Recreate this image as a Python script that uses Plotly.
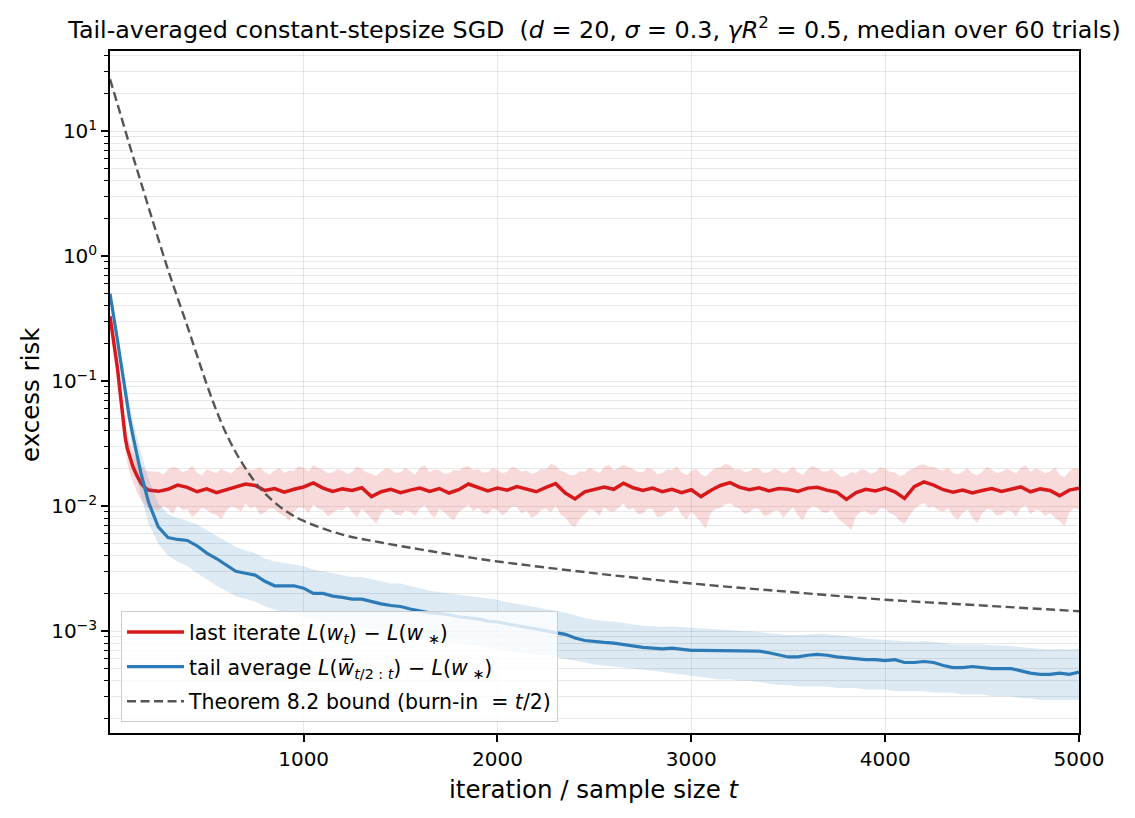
import plotly.graph_objects as go

# ---------------- data ----------------
T_EARLY = [1, 10, 20, 30, 40, 50, 60, 70, 80, 90, 100, 120, 140, 160, 180, 200]
T = T_EARLY + list(range(250, 5001, 50))          # grid of the median curves
T_RED_BAND = T_EARLY + list(range(250, 5001, 25))  # finer grid of the spiky red band

RED_MED = [0.33, 0.27, 0.215, 0.17, 0.125, 0.09, 0.064, 0.046, 0.035, 0.029, 0.0255, 0.0205, 0.0175, 0.0153, 0.0141, 0.0134,
           0.0131, 0.0136, 0.0147, 0.0141, 0.0130, 0.0137, 0.0128, 0.0135, 0.0140, 0.0150,
           0.0146, 0.0133, 0.0138, 0.0129, 0.0136, 0.0142, 0.0153, 0.0139, 0.0131, 0.0137,
           0.0133, 0.0140, 0.0119, 0.0130, 0.0136, 0.0128, 0.0134, 0.0139, 0.0131, 0.0138,
           0.0127, 0.0135, 0.0150, 0.0141, 0.0132, 0.0139, 0.0134, 0.0143, 0.0136, 0.0130,
           0.0141, 0.0151, 0.0127, 0.0114, 0.0130, 0.0137, 0.0142, 0.0136, 0.0152, 0.0140,
           0.0133, 0.0139, 0.0130, 0.0136, 0.0128, 0.0135, 0.0119, 0.0133, 0.0146, 0.0154,
           0.0141, 0.0135, 0.0140, 0.0132, 0.0138, 0.0136, 0.0131, 0.0139, 0.0141, 0.0134,
           0.0129, 0.0113, 0.0128, 0.0136, 0.0132, 0.0139, 0.0130, 0.0115, 0.0143, 0.0156,
           0.0147, 0.0135, 0.0129, 0.0134, 0.0127, 0.0133, 0.0138, 0.0131, 0.0136, 0.0142,
           0.0130, 0.0137, 0.0133, 0.0121, 0.0134, 0.0139]

RED_HI = [0.36, 0.30, 0.24, 0.195, 0.145, 0.106, 0.077, 0.057, 0.044, 0.037, 0.033, 0.027, 0.023, 0.021, 0.0195, 0.019,
          0.0188, 0.0179, 0.0195, 0.0206, 0.0201, 0.0187, 0.0192, 0.0210, 0.0185, 0.0176,
          0.0197, 0.0189, 0.0183, 0.0199, 0.0190, 0.0181, 0.0199, 0.0212, 0.0208, 0.0193,
          0.0196, 0.0205, 0.0187, 0.0178, 0.0193, 0.0202, 0.0184, 0.0192, 0.0191, 0.0209,
          0.0202, 0.0189, 0.0214, 0.0201, 0.0195, 0.0183, 0.0186, 0.0198, 0.0192, 0.0180,
          0.0188, 0.0207, 0.0198, 0.0186, 0.0181, 0.0174, 0.0189, 0.0200, 0.0196, 0.0184,
          0.0185, 0.0203, 0.0190, 0.0179, 0.0203, 0.0211, 0.0187, 0.0196, 0.0194, 0.0182,
          0.0182, 0.0195, 0.0191, 0.0204, 0.0209, 0.0193, 0.0198, 0.0185, 0.0186, 0.0201,
          0.0195, 0.0182, 0.0189, 0.0206, 0.0200, 0.0188, 0.0192, 0.0181, 0.0185, 0.0199,
          0.0197, 0.0217, 0.0211, 0.0192, 0.0186, 0.0175, 0.0178, 0.0190, 0.0188, 0.0203,
          0.0194, 0.0183, 0.0205, 0.0214, 0.0192, 0.0201, 0.0215, 0.0204, 0.0199, 0.0186,
          0.0187, 0.0202, 0.0196, 0.0180, 0.0184, 0.0197, 0.0193, 0.0208, 0.0186, 0.0177,
          0.0191, 0.0199, 0.0180, 0.0172, 0.0189, 0.0201, 0.0204, 0.0218, 0.0212, 0.0195,
          0.0198, 0.0187, 0.0190, 0.0203, 0.0197, 0.0184, 0.0186, 0.0199, 0.0194, 0.0182,
          0.0191, 0.0207, 0.0185, 0.0178, 0.0196, 0.0209, 0.0201, 0.0190, 0.0189, 0.0198,
          0.0183, 0.0171, 0.0175, 0.0186, 0.0184, 0.0197, 0.0193, 0.0181, 0.0187, 0.0205,
          0.0198, 0.0188, 0.0185, 0.0173, 0.0180, 0.0194, 0.0201, 0.0213, 0.0216, 0.0207,
          0.0205, 0.0196, 0.0191, 0.0202, 0.0184, 0.0179, 0.0189, 0.0200, 0.0182, 0.0176,
          0.0188, 0.0206, 0.0195, 0.0184, 0.0186, 0.0199, 0.0192, 0.0181, 0.0203, 0.0211,
          0.0187, 0.0200, 0.0194, 0.0183, 0.0189, 0.0204, 0.0178, 0.0170, 0.0190, 0.0201,
          0.0197]

RED_LO = [0.30, 0.24, 0.19, 0.148, 0.107, 0.077, 0.054, 0.038, 0.028, 0.022, 0.019, 0.0155, 0.0128, 0.0112, 0.0102, 0.0096,
          0.0092, 0.0099, 0.0096, 0.0086, 0.0101, 0.0093, 0.0094, 0.0081, 0.0088, 0.0097,
          0.0093, 0.0087, 0.0085, 0.0078, 0.0091, 0.0099, 0.0097, 0.0090, 0.0104, 0.0096,
          0.0099, 0.0085, 0.0089, 0.0096, 0.0094, 0.0087, 0.0083, 0.0076, 0.0090, 0.0098,
          0.0096, 0.0088, 0.0103, 0.0095, 0.0093, 0.0082, 0.0087, 0.0094, 0.0092, 0.0100,
          0.0089, 0.0081, 0.0095, 0.0087, 0.0079, 0.0072, 0.0087, 0.0095, 0.0093, 0.0085,
          0.0084, 0.0092, 0.0090, 0.0083, 0.0096, 0.0101, 0.0088, 0.0080, 0.0094, 0.0089,
          0.0082, 0.0077, 0.0089, 0.0096, 0.0102, 0.0091, 0.0097, 0.0088, 0.0086, 0.0095,
          0.0093, 0.0084, 0.0090, 0.0099, 0.0098, 0.0087, 0.0092, 0.0080, 0.0084, 0.0093,
          0.0095, 0.0089, 0.0100, 0.0086, 0.0081, 0.0071, 0.0068, 0.0079, 0.0086, 0.0094,
          0.0092, 0.0083, 0.0098, 0.0091, 0.0090, 0.0097, 0.0104, 0.0093, 0.0096, 0.0086,
          0.0087, 0.0095, 0.0094, 0.0081, 0.0083, 0.0090, 0.0091, 0.0099, 0.0085, 0.0078,
          0.0090, 0.0082, 0.0074, 0.0066, 0.0088, 0.0094, 0.0097, 0.0103, 0.0105, 0.0098,
          0.0095, 0.0086, 0.0089, 0.0096, 0.0094, 0.0083, 0.0085, 0.0091, 0.0092, 0.0080,
          0.0090, 0.0098, 0.0084, 0.0077, 0.0093, 0.0100, 0.0097, 0.0089, 0.0088, 0.0094,
          0.0082, 0.0075, 0.0070, 0.0064, 0.0083, 0.0090, 0.0091, 0.0085, 0.0086, 0.0096,
          0.0095, 0.0087, 0.0084, 0.0076, 0.0072, 0.0083, 0.0094, 0.0101, 0.0106, 0.0097,
          0.0099, 0.0092, 0.0090, 0.0096, 0.0083, 0.0078, 0.0088, 0.0094, 0.0080, 0.0073,
          0.0087, 0.0095, 0.0093, 0.0084, 0.0085, 0.0092, 0.0091, 0.0082, 0.0097, 0.0101,
          0.0086, 0.0093, 0.0092, 0.0083, 0.0088, 0.0081, 0.0076, 0.0069, 0.0089, 0.0096,
          0.0094]

BLUE_MED = [0.50, 0.40, 0.32, 0.265, 0.21, 0.165, 0.13, 0.104, 0.082, 0.065, 0.052, 0.036, 0.025, 0.0185, 0.014, 0.0107,
            0.0068, 0.0056, 0.0054, 0.0053, 0.0048, 0.0042, 0.0038, 0.0034, 0.0030, 0.0029,
            0.0028, 0.0025, 0.0023, 0.0023, 0.0023, 0.0022, 0.0020, 0.0020, 0.0019, 0.00186,
            0.0018, 0.0018, 0.00172, 0.00165, 0.0016, 0.00157, 0.0015, 0.00145, 0.0014, 0.00138,
            0.00135, 0.0013, 0.00127, 0.00125, 0.0012, 0.00118, 0.00114, 0.0011, 0.00107, 0.00104,
            0.0010, 0.00097, 0.00094, 0.00088, 0.00084, 0.00082, 0.00081, 0.0008, 0.00078, 0.00075,
            0.00074, 0.00073, 0.00072, 0.00073, 0.00071, 0.0007, 0.0007, 0.0007, 0.00069, 0.0007,
            0.0007, 0.00069, 0.00069, 0.00067, 0.00064, 0.00062, 0.00062, 0.00064, 0.00065, 0.00064,
            0.00062, 0.00061, 0.0006, 0.00059, 0.00059, 0.00058, 0.00059, 0.00056, 0.00056, 0.00057,
            0.00056, 0.00053, 0.00051, 0.00051, 0.00052, 0.00051, 0.0005, 0.0005, 0.0005, 0.00048,
            0.00046, 0.00045, 0.00045, 0.00046, 0.00045, 0.00047]

BLUE_HI = [0.53, 0.43, 0.35, 0.29, 0.235, 0.19, 0.152, 0.124, 0.1, 0.081, 0.067, 0.048, 0.035, 0.027, 0.021, 0.0165,
           0.0105, 0.0086, 0.0080, 0.0076, 0.0071, 0.0064, 0.0058, 0.0052, 0.0047, 0.0044,
           0.0042, 0.0038, 0.0036, 0.0035, 0.0034, 0.0033, 0.0031, 0.0030, 0.0029, 0.0028,
           0.0027, 0.0027, 0.0026, 0.0025, 0.0024, 0.0024, 0.0023, 0.0022, 0.0021, 0.00205,
           0.0020, 0.00195, 0.0019, 0.00185, 0.0018, 0.00178, 0.0017, 0.00165, 0.0016, 0.00155,
           0.0015, 0.00145, 0.0014, 0.00133, 0.00127, 0.00123, 0.0012, 0.00119, 0.00116, 0.00112,
           0.0011, 0.00109, 0.00108, 0.00109, 0.00107, 0.00106, 0.00105, 0.00104, 0.00102, 0.00101,
           0.0010, 0.00099, 0.00098, 0.00096, 0.00094, 0.00093, 0.00093, 0.00094, 0.00095, 0.00094,
           0.00092, 0.0009, 0.00088, 0.00087, 0.00086, 0.00085, 0.00084, 0.00082, 0.00082, 0.00083,
           0.00082, 0.0008, 0.00078, 0.00078, 0.00079, 0.00078, 0.00077, 0.00077, 0.00076, 0.00074,
           0.00073, 0.00072, 0.00071, 0.00072, 0.00071, 0.00072]

BLUE_LO = [0.47, 0.37, 0.29, 0.24, 0.185, 0.142, 0.11, 0.086, 0.066, 0.051, 0.040, 0.026, 0.017, 0.0122, 0.0092, 0.0072,
           0.0050, 0.0040, 0.0036, 0.0033, 0.0029, 0.0026, 0.0023, 0.0021, 0.0019, 0.0018,
           0.00172, 0.00158, 0.00148, 0.00142, 0.00138, 0.00132, 0.00125, 0.0012, 0.00116, 0.00113,
           0.0011, 0.00108, 0.00104, 0.0010, 0.00097, 0.00094, 0.0009, 0.00087, 0.00085, 0.00083,
           0.00082, 0.0008, 0.00078, 0.00076, 0.00074, 0.00072, 0.0007, 0.00068, 0.00066, 0.00065,
           0.00064, 0.00062, 0.0006, 0.00058, 0.00056, 0.00054, 0.00053, 0.00052, 0.00051, 0.0005,
           0.00049, 0.00048, 0.00047, 0.00046, 0.00045, 0.00044, 0.00043, 0.00042, 0.00041, 0.00041,
           0.0004, 0.0004, 0.00039, 0.00038, 0.00037, 0.00037, 0.00036, 0.00036, 0.00036, 0.00036,
           0.00035, 0.00035, 0.00035, 0.00034, 0.00034, 0.00034, 0.00033, 0.00033, 0.00033, 0.00033,
           0.00032, 0.00032, 0.00032, 0.00031, 0.00031, 0.00031, 0.0003, 0.0003, 0.0003, 0.00029,
           0.00029, 0.00028, 0.00028, 0.00028, 0.00028, 0.00028]

T_BOUND = [1, 50, 100, 150, 200, 250, 300, 350, 400, 450, 500, 550, 600, 650, 700, 750, 800,
           900, 1000, 1200, 1400, 1600, 1800, 2000, 2500, 3000, 3500, 4000, 4500, 5000]
BOUND = [26, 14.5, 7.9, 4.4, 2.45, 1.37, 0.78, 0.46, 0.275, 0.16, 0.094, 0.058, 0.038, 0.0268, 0.020, 0.0155, 0.0126,
         0.0093, 0.0076, 0.0059, 0.0051, 0.0045, 0.0040, 0.0036, 0.0029, 0.0024, 0.00206, 0.00178, 0.0016, 0.00144]

Y_TICKS = [1e-3, 1e-2, 1e-1, 1, 10]
Y_TICK_TEXT = ["10<sup>−3</sup>", "10<sup>−2</sup>", "10<sup>−1</sup>", "10<sup>0</sup>", "10<sup>1</sup>"]
X_TICKS = [1000, 2000, 3000, 4000, 5000]

for arr in (RED_MED, BLUE_MED, BLUE_HI, BLUE_LO):
    assert len(arr) == len(T), len(arr)
for arr in (RED_HI, RED_LO):
    assert len(arr) == len(T_RED_BAND), len(arr)

RED = "#d7191c"
BLUE = "#2c7bb6"
FONT = "DejaVu Sans"

fig = go.Figure()

def band(tt, lo, hi, color):
    fig.add_trace(go.Scatter(x=tt + tt[::-1], y=hi + lo[::-1], fill="toself", fillcolor=color,
                             line=dict(width=0), mode="lines", hoverinfo="skip", showlegend=False))

band(T_RED_BAND, RED_LO, RED_HI, "rgba(215,25,28,0.16)")
fig.add_trace(go.Scatter(x=T, y=RED_MED, mode="lines", line=dict(color=RED, width=3.5), legendgroup="a",
                         name="last iterate <i>L</i>(<i>w<sub>t</sub></i>) − <i>L</i>(<i>w</i><sub> ∗</sub>)"))
band(T, BLUE_LO, BLUE_HI, "rgba(44,123,182,0.16)")
fig.add_trace(go.Scatter(x=T, y=BLUE_MED, mode="lines", line=dict(color=BLUE, width=3.2), legendgroup="b",
                         name="tail average <i>L</i>(<i>w\u0305</i><sub><i>t</i>/2 : <i>t</i></sub>) − <i>L</i>(<i>w</i><sub> ∗</sub>)"))
fig.add_trace(go.Scatter(x=T_BOUND, y=BOUND, mode="lines", legendgroup="c",
                         line=dict(color="#555555", width=2.4, dash="9px,4.5px", shape="spline"),
                         name="Theorem 8.2 bound (burn-in \u00a0= <i>t</i>/2)"))

minor_vals = []
for e in range(-4, 2):
    for m in range(2, 10):
        v = m * 10.0 ** e
        if 1.5e-4 < v < 44:
            minor_vals.append(v)

GRID = "rgba(0,0,0,0.09)"

fig.update_layout(
    width=1135, height=818,
    margin=dict(l=110, r=56, t=51, b=85),
    paper_bgcolor="white", plot_bgcolor="white",
    font=dict(family=FONT, size=20, color="black"),
    title=dict(text="Tail-averaged constant-stepsize SGD \u00a0(<i>d</i> = 20, <i>σ</i> = 0.3, <i>γR</i><sup>2</sup> = 0.5, median over 60 trials)",
               x=0.5, xref="paper", xanchor="center", y=1 - 30 / 818, yref="container", yanchor="middle",
               font=dict(family=FONT, size=23.8, color="black")),
    showlegend=True,
    legend=dict(x=0.0114, y=0.016, xanchor="left", yanchor="bottom", bgcolor="rgba(255,255,255,0.8)",
                bordercolor="#cccccc", borderwidth=1, font=dict(family=FONT, size=20.5, color="black"),
                traceorder="grouped", tracegroupgap=5, itemwidth=57),
    xaxis=dict(type="linear", range=[1, 5000], tickvals=X_TICKS, ticks="outside", ticklen=7, tickwidth=1.5,
               tickcolor="black", showline=True, linecolor="black", linewidth=1.5, mirror=True,
               showgrid=True, gridcolor=GRID, gridwidth=1, zeroline=False,
               tickfont=dict(family=FONT, size=20, color="black")),
    yaxis=dict(type="log", range=[-3.816, 1.64], tickvals=Y_TICKS, ticktext=Y_TICK_TEXT, ticks="outside",
               ticklen=7, tickwidth=1.5, tickcolor="black", showline=True, linecolor="black", linewidth=1.5,
               mirror=True, showgrid=True, gridcolor=GRID, gridwidth=1, zeroline=False,
               tickfont=dict(family=FONT, size=20, color="black"),
               minor=dict(tickvals=minor_vals, ticks="outside", ticklen=4, tickwidth=1, tickcolor="black",
                          showgrid=True, gridcolor=GRID, gridwidth=1)),
    annotations=[
        dict(text="iteration / sample size <i>t</i>", xref="paper", yref="paper", x=0.5, y=-(789 - 733) / 682,
             xanchor="center", yanchor="middle", showarrow=False, font=dict(family=FONT, size=24.5, color="black")),
        dict(text="excess risk", xref="paper", yref="paper", x=(30 - 110) / 969, y=0.5 - (395 - 392) / 682,
             xanchor="center", yanchor="middle", textangle=-90, showarrow=False,
             font=dict(family=FONT, size=24.5, color="black")),
    ],
)

fig.write_html("out.html")
